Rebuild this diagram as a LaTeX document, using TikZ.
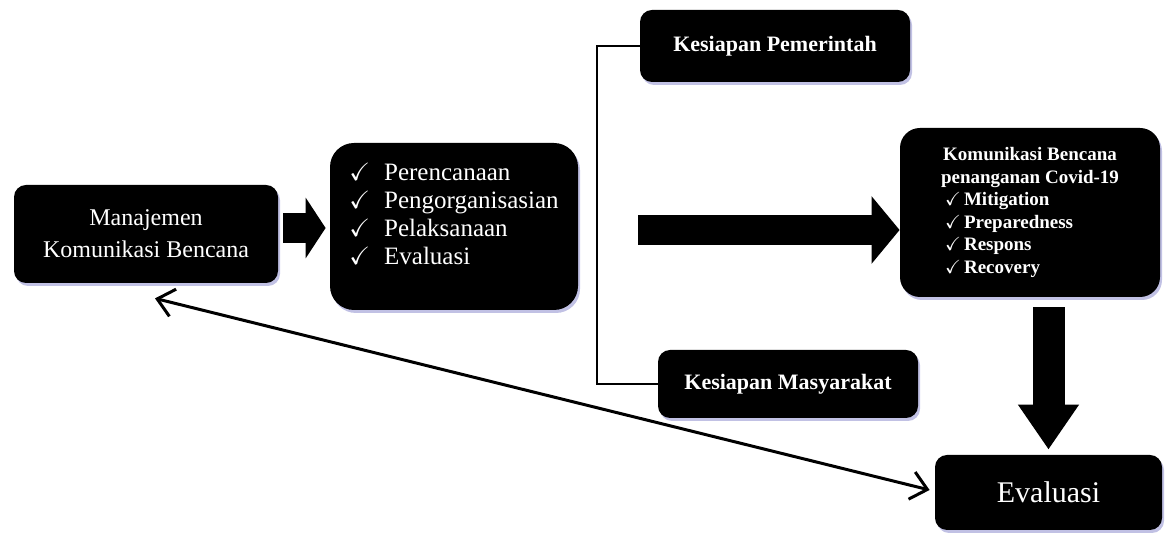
\documentclass[tikz,border=0pt]{standalone}
\usepackage{fontspec}
\setmainfont{Liberation Serif}
\usepackage{amssymb}
\usetikzlibrary{arrows.meta,shadows}

\begin{document}
\begin{tikzpicture}[x=0.5pt, y=-0.5pt,
    box/.style={fill=black, text=white, rounded corners=6pt, inner sep=0pt, align=center,
        drop shadow={shadow xshift=1pt, shadow yshift=-1.5pt, fill=blue!40!gray, opacity=0.35}},
    fat/.style={draw=black, line width=15pt}]
    \useasboundingbox (0,0) rectangle (1174,533);
    \node[box, minimum width=132pt, minimum height=49pt, font=\fontsize{12}{16}\selectfont] (mkb) at (146,234) {Manajemen\\Komunikasi Bencana};
    \node[box, rounded corners=12pt, minimum width=124pt, minimum height=83.5pt, font=\fontsize{12.5}{14}\selectfont] (tahap) at (454,226.5)
        {\begin{tabular}{@{}l@{\hspace{7pt}}l@{}}
            $\checkmark$ & Perencanaan\\
            $\checkmark$ & Pengorganisasian\\
            $\checkmark$ & Pelaksanaan\\
            $\checkmark$ & Evaluasi\\[10pt]
        \end{tabular}};
    \node[box, minimum width=135pt, minimum height=36pt, font=\bfseries\fontsize{11}{13}\selectfont] (pemerintah) at (775,46) {Kesiapan Pemerintah};
    \node[box, minimum width=130pt, minimum height=34pt, font=\bfseries\fontsize{11}{13}\selectfont] (masyarakat) at (788,384) {Kesiapan Masyarakat};
    \node[box, rounded corners=10pt, minimum width=130pt, minimum height=84.5pt, font=\bfseries\fontsize{9.5}{11.3}\selectfont] (kbc) at (1030,212.5)
        {\begin{tabular}{@{}l@{}}
            \multicolumn{1}{@{}c@{}}{Komunikasi Bencana}\\
            \multicolumn{1}{@{}c@{}}{penanganan Covid-19}\\
            \hspace{2pt}$\checkmark$\,Mitigation\\
            \hspace{2pt}$\checkmark$\,Preparedness\\
            \hspace{2pt}$\checkmark$\,Respons\\
            \hspace{2pt}$\checkmark$\,Recovery
        \end{tabular}};
    \node[box, minimum width=113.5pt, minimum height=37.5pt, font=\fontsize{15}{17}\selectfont] (eval) at (1048.5,492.5) {Evaluasi};
    \coordinate (bk) at (597,0);
    \coordinate (panah) at (638,230);
    \draw[line width=1.4pt] (pemerintah.west) -- (pemerintah.west -| bk) |- (masyarakat.west);
    \draw[fat, -{Triangle[length=10pt,width=30pt]}, shorten >=2pt] ([xshift=2.5pt,yshift=3pt]mkb.east) -- ([yshift=3pt]mkb.east -| tahap.west);
    \draw[fat, -{Triangle[length=14pt,width=33pt]}] (panah) -- (panah -| kbc.west);
    \draw[line width=16pt, -{Triangle[length=22.5pt,width=29pt]}, shorten <=5pt, shorten >=2.5pt] (kbc.south -| eval.north) -- (eval.north);
    \draw[line width=1.5pt, {Straight Barb[length=8pt,width=14pt]}-{Straight Barb[length=8pt,width=14pt]}] ([xshift=4.5pt,yshift=-7.5pt]mkb.south) -- ([xshift=-2.5pt,yshift=1.25pt]eval.west);
\end{tikzpicture}
\end{document}
